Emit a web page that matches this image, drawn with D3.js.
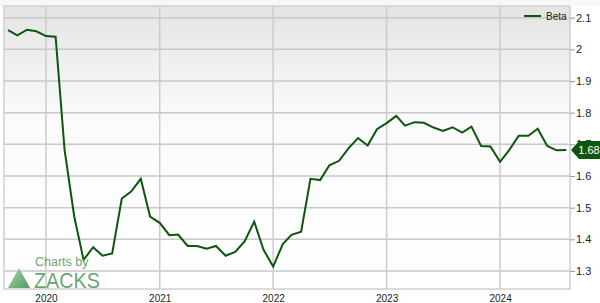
<!DOCTYPE html>
<html>
<head>
<meta charset="utf-8">
<script src="https://cdn.jsdelivr.net/npm/d3@7"></script>
<style>
  body { margin: 0; background: #fff; }
  svg { display: block; font-family: "Liberation Sans", Arial, sans-serif; }
</style>
</head>
<body>
<div id="chart"></div>
<script>
// monthly beta values, Sep 2019 .. Aug 2024
var months = [
    "2019-09", "2019-10", "2019-11", "2019-12",
    "2020-01", "2020-02", "2020-03", "2020-04", "2020-05", "2020-06",
    "2020-07", "2020-08", "2020-09", "2020-10", "2020-11", "2020-12",
    "2021-01", "2021-02", "2021-03", "2021-04", "2021-05", "2021-06",
    "2021-07", "2021-08", "2021-09", "2021-10", "2021-11", "2021-12",
    "2022-01", "2022-02", "2022-03", "2022-04", "2022-05", "2022-06",
    "2022-07", "2022-08", "2022-09", "2022-10", "2022-11", "2022-12",
    "2023-01", "2023-02", "2023-03", "2023-04", "2023-05", "2023-06",
    "2023-07", "2023-08", "2023-09", "2023-10", "2023-11", "2023-12",
    "2024-01", "2024-02", "2024-03", "2024-04", "2024-05", "2024-06",
    "2024-07", "2024-08"
];
var beta = [
    2.061, 2.044, 2.062, 2.057,
    2.042, 2.040, 1.682, 1.472, 1.335, 1.375,
    1.348, 1.355, 1.529, 1.551, 1.591, 1.472,
    1.452, 1.413, 1.415, 1.379, 1.379, 1.370,
    1.379, 1.348, 1.360, 1.393, 1.456, 1.367,
    1.314, 1.385, 1.414, 1.424, 1.591, 1.587,
    1.634, 1.648, 1.688, 1.720, 1.696, 1.748,
    1.767, 1.790, 1.759, 1.770, 1.768, 1.753,
    1.742, 1.754, 1.737, 1.756, 1.695, 1.693,
    1.645, 1.684, 1.727, 1.727, 1.749, 1.695,
    1.681, 1.682
];
var yTicks = [1.3, 1.4, 1.5, 1.6, 1.7, 1.8, 1.9, 2, 2.1];
var xTickYears = ["2020", "2021", "2022", "2023", "2024"];
var lastLabel = "1.68";

var width = 600, height = 303;
var margin = { top: 6, right: 30, bottom: 14, left: 4 };
var plotW = width - margin.left - margin.right;
var plotH = height - margin.top - margin.bottom;

var parse = d3.timeParse("%Y-%m");
var parseDay = d3.timeParse("%Y-%m-%d");
var data = months.map(function (m, i) { return { date: parse(m), value: beta[i] }; });

// domain chosen so the first month sits near the left edge and Aug 2024 near the right
var x = d3.scaleTime()
    .domain([parseDay("2019-08-19"), parseDay("2024-08-13")])
    .range([0, plotW]);

var y = d3.scaleLinear()
    .domain([1.243, 2.137])
    .range([plotH, 0]);

var svg = d3.select("#chart").append("svg")
    .attr("width", width)
    .attr("height", height);

var defs = svg.append("defs");
var grad = defs.append("linearGradient")
    .attr("id", "bg").attr("x1", 0).attr("y1", 0).attr("x2", 0).attr("y2", 1);
grad.append("stop").attr("offset", "0%").attr("stop-color", "#e4e4e4");
grad.append("stop").attr("offset", "40%").attr("stop-color", "#fbfbfb");
grad.append("stop").attr("offset", "100%").attr("stop-color", "#ffffff");

var logoGrad = defs.append("linearGradient")
    .attr("id", "logo").attr("x1", 0).attr("y1", 0).attr("x2", 1).attr("y2", 1);
logoGrad.append("stop").attr("offset", "0%").attr("stop-color", "#a6d8a6");
logoGrad.append("stop").attr("offset", "100%").attr("stop-color", "#4f9a5f");

// page top strip
svg.append("rect").attr("x", 0).attr("y", 0).attr("width", width).attr("height", margin.top)
    .attr("fill", "#f7f7f7");

var g = svg.append("g")
    .attr("transform", "translate(" + margin.left + "," + margin.top + ")");

g.append("rect")
    .attr("width", plotW).attr("height", plotH)
    .attr("fill", "url(#bg)");

// horizontal grid
g.selectAll(".hgrid")
    .data(yTicks)
    .enter().append("line")
    .attr("class", "hgrid")
    .attr("x1", 0).attr("x2", plotW)
    .attr("y1", function (d) { return y(d); })
    .attr("y2", function (d) { return y(d); })
    .attr("stroke", "#c8c8c8")
    .attr("stroke-width", 1.5);

// vertical grid at year starts
var yearDates = xTickYears.map(function (yr) { return d3.timeParse("%Y")(yr); });
g.selectAll(".vgrid")
    .data(yearDates)
    .enter().append("line")
    .attr("class", "vgrid")
    .attr("x1", function (d) { return x(d); })
    .attr("x2", function (d) { return x(d); })
    .attr("y1", 0).attr("y2", plotH)
    .attr("stroke", "#cccccc")
    .attr("stroke-width", 1.5);

// plot frame
g.append("rect")
    .attr("width", plotW).attr("height", plotH)
    .attr("fill", "none")
    .attr("stroke", "#cfcfcf")
    .attr("stroke-width", 1.5);

// zacks watermark (page coordinates)
var logo = svg.append("g");
logo.append("text")
    .attr("x", 35).attr("y", 266)
    .attr("font-size", "12.5px")
    .attr("fill", "#6aa577")
    .text("Charts by");
logo.append("path")
    .attr("d", "M8,288 L19,268 L30,288 Z")
    .attr("fill", "url(#logo)");
logo.append("text")
    .attr("x", 34).attr("y", 288)
    .attr("font-size", "22px")
    .attr("textLength", 66)
    .attr("lengthAdjust", "spacingAndGlyphs")
    .attr("fill", "#6aa577")
    .text("ZACKS");

// right axis
var yAxis = d3.axisRight(y)
    .tickValues(yTicks)
    .tickSize(5)
    .tickFormat(d3.format("~g"));
var yAxisG = g.append("g")
    .attr("transform", "translate(" + plotW + ",0)")
    .call(yAxis);
yAxisG.select(".domain").remove();
yAxisG.selectAll(".tick line").attr("stroke", "#999");
yAxisG.selectAll(".tick text")
    .attr("x", 6)
    .attr("font-size", "11px")
    .attr("fill", "#222")
    .attr("font-family", "Liberation Sans, Arial, sans-serif");

// bottom axis
var xAxis = d3.axisBottom(x)
    .tickValues(yearDates)
    .tickSize(0)
    .tickFormat(d3.timeFormat("%Y"));
var xAxisG = g.append("g")
    .attr("transform", "translate(0," + plotH + ")")
    .call(xAxis);
xAxisG.select(".domain").remove();
xAxisG.selectAll(".tick text")
    .attr("dy", "0.95em")
    .attr("font-size", "10px")
    .attr("fill", "#222")
    .attr("font-family", "Liberation Sans, Arial, sans-serif");

// beta line
var line = d3.line()
    .x(function (d) { return x(d.date); })
    .y(function (d) { return y(d.value); });

g.append("path")
    .datum(data)
    .attr("d", line)
    .attr("fill", "none")
    .attr("stroke", "#0d560d")
    .attr("stroke-width", 2)
    .attr("stroke-linejoin", "miter");

// last value flag
var last = data[data.length - 1];
var fy = y(last.value);
var flag = g.append("g").attr("transform", "translate(" + (plotW + 1) + "," + fy + ")");
flag.append("path")
    .attr("d", "M0,0 L8,-9 L29,-9 L29,9 L8,9 Z")
    .attr("fill", "#0d560d");
flag.append("text")
    .attr("x", 18).attr("y", 4)
    .attr("text-anchor", "middle")
    .attr("font-size", "11px")
    .attr("fill", "#fff")
    .text(lastLabel);

// legend
var legend = g.append("g").attr("transform", "translate(" + (plotW - 46) + ",10)");
legend.append("line")
    .attr("x1", 0).attr("x2", 17)
    .attr("stroke", "#0d560d")
    .attr("stroke-width", 2);
legend.append("text")
    .attr("x", 22).attr("y", 4)
    .attr("font-size", "10px")
    .attr("fill", "#222")
    .text("Beta");
</script>
</body>
</html>
